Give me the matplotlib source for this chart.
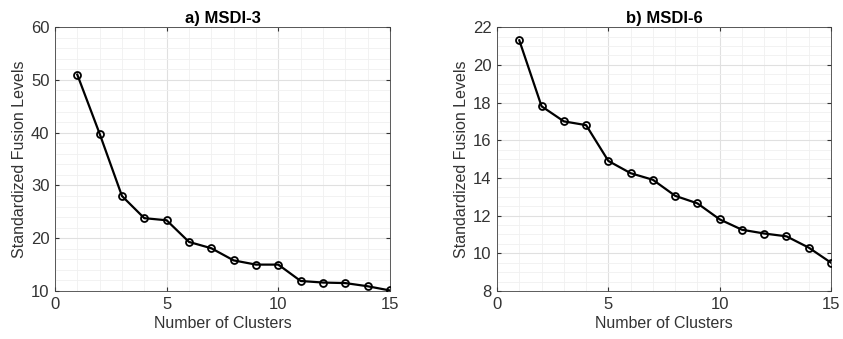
import matplotlib.pyplot as plt
import numpy as np
from matplotlib.ticker import MultipleLocator

plt.rcParams['font.family'] = ['Liberation Sans', 'DejaVu Sans']

# number of clusters
clusters = np.arange(1, 16)

# standardized fusion levels
msdi3 = [51.0, 39.8, 28.0, 23.8, 23.4, 19.3, 18.1, 15.8, 15.0, 15.0,
         11.9, 11.6, 11.5, 10.9, 10.1]
msdi6 = [21.3, 17.8, 17.0, 16.8, 14.9, 14.25, 13.9, 13.05, 12.65, 11.8,
         11.25, 11.05, 10.9, 10.3, 9.5]

titles = ['a) MSDI-3', 'b) MSDI-6']
ylims = [(10, 60), (8, 22)]
ymajor = [10, 2]
yminor = [2, 0.5]

txt = '#333333'

fig = plt.figure(figsize=(8.43, 3.39), dpi=100)
ax1 = fig.add_axes([0.0652, 0.1416, 0.3974, 0.7784])
ax2 = fig.add_axes([0.5896, 0.1416, 0.3962, 0.7784])

for ax, vals, title, ylim, maj, mnr in zip([ax1, ax2], [msdi3, msdi6], titles,
                                            ylims, ymajor, yminor):
    ax.plot(clusters, vals, color='k', lw=1.6, marker='o', ms=5,
            mfc='none', mec='k', mew=1.3, zorder=3)
    ax.set_xlim(0, 15)
    ax.set_ylim(*ylim)
    ax.xaxis.set_major_locator(MultipleLocator(5))
    ax.xaxis.set_minor_locator(MultipleLocator(1))
    ax.yaxis.set_major_locator(MultipleLocator(maj))
    ax.yaxis.set_minor_locator(MultipleLocator(mnr))
    ax.grid(which='major', color='#e0e0e0', lw=0.8)
    ax.grid(which='minor', color='#f0f0f0', lw=0.6)
    ax.set_axisbelow(True)
    ax.tick_params(which='both', direction='in', top=True, right=True,
                   colors=txt, labelsize=12, length=3, pad=4)
    ax.tick_params(which='minor', length=0)
    for s in ax.spines.values():
        s.set_color('#404040')
        s.set_linewidth(0.6)
    ax.set_title(title, fontsize=12, fontweight='bold', color='k', pad=3)
    ax.set_xlabel('Number of Clusters', fontsize=11.5, color=txt, labelpad=3)
    ax.set_ylabel('Standardized Fusion Levels', fontsize=11.5, color=txt,
                  labelpad=3)

fig.savefig('out.png', dpi=100)
